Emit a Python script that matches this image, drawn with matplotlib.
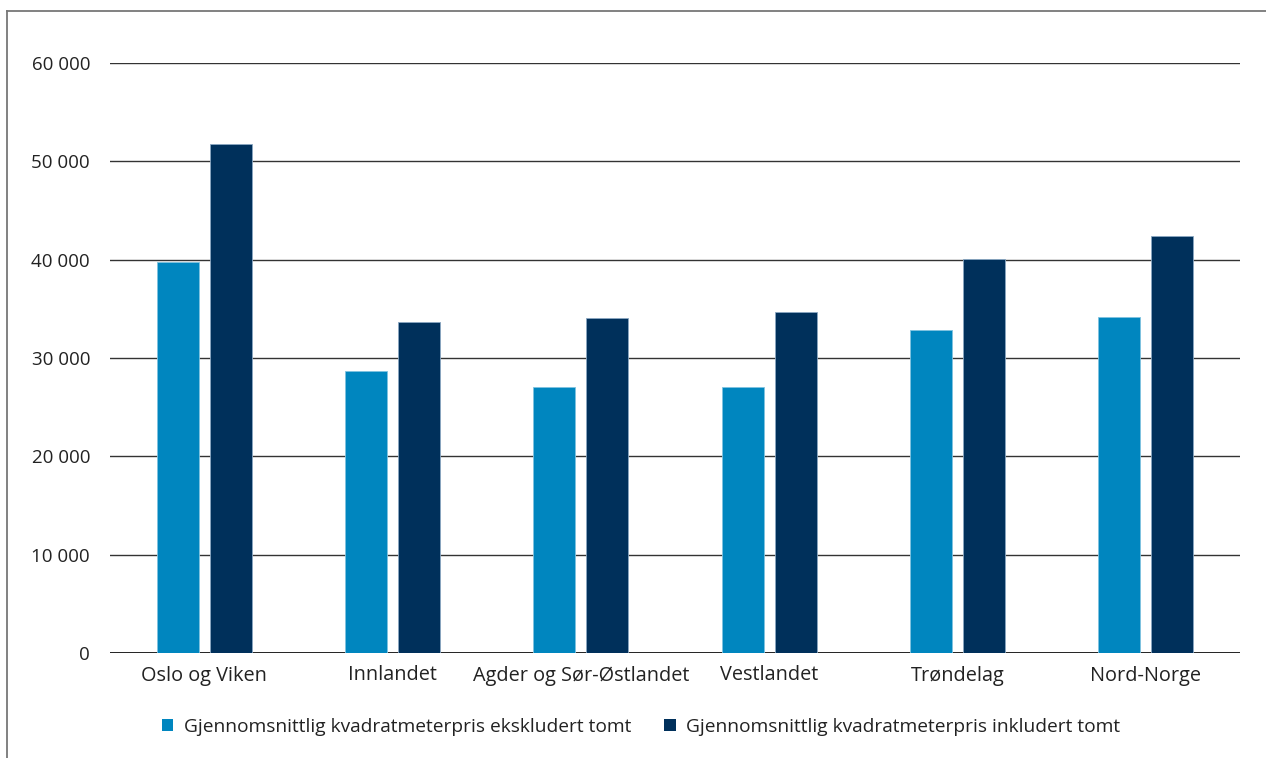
import matplotlib
matplotlib.use("Agg")
import matplotlib.pyplot as plt
from matplotlib.lines import Line2D
from matplotlib.patches import Patch
import numpy as np

categories = ["Oslo og Viken", "Innlandet", "Agder og Sør-Østlandet", "Vestlandet", "Trøndelag", "Nord-Norge"]
ekskl_tomt = [39800, 28700, 27050, 27050, 32850, 34150]
inkl_tomt = [51800, 33700, 34100, 34700, 40050, 42400]
series_names = ["Gjennomsnittlig kvadratmeterpris ekskludert tomt",
                "Gjennomsnittlig kvadratmeterpris inkludert tomt"]
yticks = [0, 10000, 20000, 30000, 40000, 50000, 60000]

plt.rcParams['font.family'] = ['Open Sans', 'DejaVu Sans']
W, H = 1266, 758
fig = plt.figure(figsize=(W/100, H/100), dpi=100)
ax = fig.add_axes([110/W, 1-653/H, 1130/W, (653-63)/H])

x = np.arange(len(categories))
bw = 0.224
off = 0.141
c1, c2 = "#0086BF", "#00305B"
ax.bar(x - off, ekskl_tomt, bw, color=c1, edgecolor="#7fc3e0", linewidth=0.6, zorder=3)
ax.bar(x + off, inkl_tomt, bw, color=c2, edgecolor="#8aa7c2", linewidth=0.6, zorder=3)

ax.set_xlim(-0.5, len(categories) - 0.5)
ax.set_ylim(0, 60000)
ax.set_yticks(yticks)
ax.set_yticklabels([f"{v:,}".replace(",", " ") for v in yticks], fontsize=13.5, color="#222222")
ax.set_xticks(x)
ax.set_xticklabels(categories, fontsize=14.3, color="#222222")
ax.tick_params(length=0)
ax.tick_params(axis='y', pad=14.4)
ax.tick_params(axis='x', pad=9)
for v in yticks:
    ax.axhline(v, color="#222222" if v == 0 else "#333333", linewidth=1.4 if v == 0 else 1.0, zorder=1)
for s in ax.spines.values():
    s.set_visible(False)

handles = [Patch(facecolor=c1), Patch(facecolor=c2)]
fig.legend(handles, series_names, loc="center", bbox_to_anchor=(641/W, 1-727/H), ncol=2,
           frameon=False, fontsize=13.8, handlelength=0.62, handleheight=0.62,
           handletextpad=0.55, columnspacing=1.7, labelcolor="#222222")

fig.add_artist(Line2D([7/W, 1], [1-11/H, 1-11/H], color="#777777", linewidth=1.3, transform=fig.transFigure))
fig.add_artist(Line2D([7/W, 7/W], [0, 1-11/H], color="#777777", linewidth=1.3, transform=fig.transFigure))

fig.savefig("out.png", dpi=100)
